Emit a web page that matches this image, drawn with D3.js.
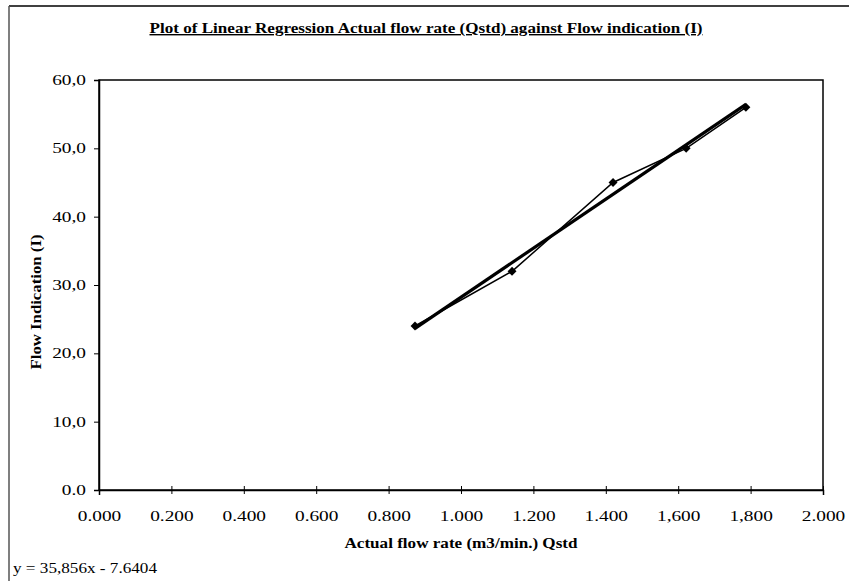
<!DOCTYPE html>
<html>
<head>
<meta charset="utf-8">
<title>Linear Regression Flow Plot</title>
<script src="https://d3js.org/d3.v7.min.js"></script>
<style>
  body { margin: 0; background: #fff; }
  svg text { font-family: "Liberation Serif", "DejaVu Serif", serif; fill: #000; }
</style>
</head>
<body>
<script>
// data
var flowRate = [0.873, 1.141, 1.420, 1.622, 1.787];   // Qstd (m3/min.)
var flowInd = [24.0, 32.0, 45.0, 50.0, 56.0];         // I
var slope = 35.856, intercept = -7.6404;
var xTicks = [0, 0.2, 0.4, 0.6, 0.8, 1.0, 1.2, 1.4, 1.6, 1.8, 2.0];
var xTickLabels = ["0.000", "0.200", "0.400", "0.600", "0.800", "1.000", "1.200", "1.400", "1,600", "1,800", "2.000"];
var yTicks = [0, 10, 20, 30, 40, 50, 60];
var yTickLabels = ["0.0", "10,0", "20,0", "30,0", "40,0", "50,0", "60,0"];

var W = 849, H = 581;
var plot = {left: 99, top: 80, right: 823, bottom: 490};
var stretch = 1.38; // the scanned text is wider than the serif we have

var svg = d3.select("body").append("svg")
    .attr("width", W).attr("height", H);

// outer chart frame (top + left)
svg.append("line").attr("x1", 9).attr("x2", W).attr("y1", 6).attr("y2", 6)
    .attr("stroke", "#000").attr("stroke-width", 1.5);
svg.append("line").attr("x1", 9).attr("x2", 9).attr("y1", 6).attr("y2", H)
    .attr("stroke", "#555").attr("stroke-width", 1.5);

var x = d3.scaleLinear().domain([0, 2]).range([plot.left, plot.right]);
var y = d3.scaleLinear().domain([0, 60]).range([plot.bottom, plot.top]);

// plot area border
svg.append("rect")
    .attr("x", plot.left).attr("y", plot.top)
    .attr("width", plot.right - plot.left).attr("height", plot.bottom - plot.top)
    .attr("fill", "none").attr("stroke", "#000").attr("stroke-width", 1.5);

// x axis with cross ticks
var gx = svg.append("g")
    .attr("transform", "translate(0," + plot.bottom + ")")
    .call(d3.axisBottom(x).tickValues(xTicks).tickSize(5)
      .tickFormat(function(d, i) { return xTickLabels[i]; }));
gx.attr("font-size", 14).attr("font-family", null);
gx.select(".domain").attr("stroke-width", 1.5);
gx.selectAll(".tick line").attr("y1", -4).attr("y2", 4);
gx.selectAll(".tick text")
    .attr("y", 21)
    .attr("transform", "scale(" + stretch + ",1)");

// y axis
var gy = svg.append("g")
    .attr("transform", "translate(" + plot.left + ",0)")
    .call(d3.axisLeft(y).tickValues(yTicks).tickSize(5)
      .tickFormat(function(d, i) { return yTickLabels[i]; }));
gy.attr("font-size", 14).attr("font-family", null);
gy.select(".domain").attr("stroke-width", 1.5);
gy.selectAll(".tick text")
    .attr("x", -13 / stretch)
    .attr("transform", "scale(" + stretch + ",1)");

// regression line over data range
var xr = d3.extent(flowRate);
svg.append("line")
    .attr("x1", x(xr[0])).attr("y1", y(slope * xr[0] + intercept))
    .attr("x2", x(xr[1])).attr("y2", y(slope * xr[1] + intercept))
    .attr("stroke", "#000").attr("stroke-width", 3.2);

// data line
var pts = flowRate.map(function(v, i) { return [v, flowInd[i]]; });
svg.append("path")
    .datum(pts)
    .attr("fill", "none").attr("stroke", "#000").attr("stroke-width", 1.5)
    .attr("d", d3.line().x(function(d) { return x(d[0]); }).y(function(d) { return y(d[1]); }));

// diamond markers
svg.selectAll(".pt").data(pts).enter().append("path")
    .attr("class", "pt")
    .attr("d", d3.symbol().type(d3.symbolSquare).size(40))
    .attr("transform", function(d) { return "translate(" + x(d[0]) + "," + y(d[1]) + ") rotate(45)"; })
    .attr("fill", "#000");

// title
svg.append("text")
    .attr("x", 426).attr("y", 33)
    .attr("text-anchor", "middle")
    .attr("font-size", 14).attr("font-weight", "bold")
    .attr("text-decoration", "underline")
    .attr("textLength", 553).attr("lengthAdjust", "spacingAndGlyphs")
    .text("Plot of Linear Regression Actual flow rate (Qstd) against Flow indication (I)");

// axis titles
svg.append("text")
    .attr("x", 461).attr("y", 548)
    .attr("text-anchor", "middle")
    .attr("font-size", 14).attr("font-weight", "bold")
    .attr("textLength", 233).attr("lengthAdjust", "spacingAndGlyphs")
    .text("Actual flow rate (m3/min.) Qstd");

svg.append("text")
    .attr("transform", "translate(41,302) rotate(-90)")
    .attr("text-anchor", "middle")
    .attr("font-size", 14).attr("font-weight", "bold")
    .attr("textLength", 135).attr("lengthAdjust", "spacingAndGlyphs")
    .text("Flow Indication (I)");

// equation label
svg.append("text")
    .attr("x", 13).attr("y", 573)
    .attr("font-size", 15)
    .attr("textLength", 144).attr("lengthAdjust", "spacingAndGlyphs")
    .text("y = 35,856x - 7.6404");
</script>
</body>
</html>
